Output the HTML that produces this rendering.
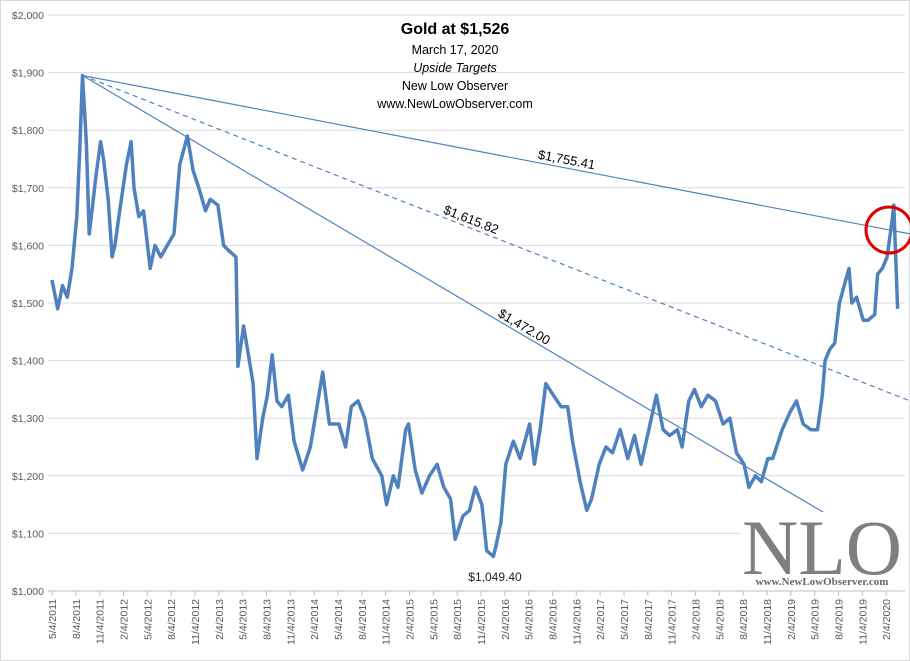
<!DOCTYPE html>
<html><head><meta charset="utf-8"><style>
body{margin:0;background:#fff}
svg{display:block;font-family:"Liberation Sans",sans-serif}
</style></head><body>
<svg id="chart" width="910" height="661" viewBox="0 0 910 661">
<rect x="0.5" y="0.5" width="909" height="660" fill="#fff" stroke="#d9d9d9"/>
<g id="grid"></g>
<g id="yticks"></g>
<g id="xticks"></g>
<g id="trend"></g>
<path id="series" fill="none" stroke="#4f81bd" stroke-width="3.5" stroke-linejoin="round"/>
<circle cx="889" cy="230" r="23" fill="none" stroke="#e00000" stroke-width="3"/>
<text x="495" y="581" font-size="12" text-anchor="middle" fill="#222">$1,049.40</text>
<g text-anchor="middle" fill="#000">
<text x="455" y="34" font-size="16" font-weight="bold">Gold at $1,526</text>
<text x="455" y="54" font-size="12.5">March 17, 2020</text>
<text x="455" y="72" font-size="12.5" font-style="italic">Upside Targets</text>
<text x="455" y="90" font-size="12.5">New Low Observer</text>
<text x="455" y="108" font-size="12.5">www.NewLowObserver.com</text>
</g>
<g>
<rect x="740" y="512" width="166" height="78" fill="#fff"/>
<text x="822" y="574" font-size="78" font-family="'Liberation Serif',serif" text-anchor="middle" fill="#7f7f7f" textLength="160" lengthAdjust="spacingAndGlyphs">NLO</text>
<text x="822" y="585" font-size="11" font-weight="bold" font-family="'Liberation Serif',serif" text-anchor="middle" fill="#666">www.NewLowObserver.com</text>
</g>
</svg>
<script>
const yTickValues=[1000,1100,1200,1300,1400,1500,1600,1700,1800,1900,2000];
const xTickLabels=[];
const qMonths=[5,8,11,2];
const priceTimes=[2011.34,2011.40,2011.45,2011.50,2011.55,2011.60,2011.63,2011.66,2011.70,2011.73,2011.76,2011.80,2011.85,2011.88,2011.93,2011.97,2012.0,2012.05,2012.12,2012.17,2012.2,2012.25,2012.3,2012.37,2012.42,2012.48,2012.55,2012.62,2012.68,2012.76,2012.82,2012.88,2012.95,2013.0,2013.08,2013.14,2013.2,2013.27,2013.29,2013.35,2013.4,2013.45,2013.49,2013.55,2013.6,2013.65,2013.7,2013.75,2013.82,2013.88,2013.97,2014.05,2014.12,2014.18,2014.25,2014.35,2014.42,2014.48,2014.55,2014.62,2014.7,2014.8,2014.85,2014.92,2014.97,2015.05,2015.08,2015.15,2015.22,2015.3,2015.38,2015.45,2015.52,2015.57,2015.65,2015.72,2015.78,2015.85,2015.9,2015.97,2016.0,2016.05,2016.1,2016.18,2016.25,2016.35,2016.4,2016.46,2016.52,2016.6,2016.68,2016.75,2016.8,2016.88,2016.95,2017.0,2017.08,2017.15,2017.22,2017.3,2017.38,2017.45,2017.52,2017.6,2017.68,2017.75,2017.82,2017.9,2017.95,2018.02,2018.08,2018.15,2018.22,2018.3,2018.38,2018.45,2018.52,2018.6,2018.65,2018.72,2018.78,2018.85,2018.9,2019.0,2019.08,2019.15,2019.22,2019.3,2019.37,2019.42,2019.45,2019.5,2019.55,2019.6,2019.65,2019.7,2019.73,2019.78,2019.85,2019.9,2019.97,2020.0,2020.05,2020.1,2020.15,2020.17,2020.19,2020.21];
const priceValues=[1540,1490,1530,1510,1560,1650,1760,1895,1780,1620,1660,1720,1780,1750,1680,1580,1600,1660,1740,1780,1700,1650,1660,1560,1600,1580,1600,1620,1740,1790,1730,1700,1660,1680,1670,1600,1590,1580,1390,1460,1410,1360,1230,1300,1340,1410,1330,1320,1340,1260,1210,1250,1320,1380,1290,1290,1250,1320,1330,1300,1230,1200,1150,1200,1180,1280,1290,1210,1170,1200,1220,1180,1160,1090,1130,1140,1180,1150,1070,1060,1080,1120,1220,1260,1230,1290,1220,1280,1360,1340,1320,1320,1260,1190,1140,1160,1220,1250,1240,1280,1230,1270,1220,1280,1340,1280,1270,1280,1250,1330,1350,1320,1340,1330,1290,1300,1240,1220,1180,1200,1190,1230,1230,1280,1310,1330,1290,1280,1280,1340,1400,1420,1430,1500,1530,1560,1500,1510,1470,1470,1480,1550,1560,1580,1640,1670,1580,1490];
const trendStart=[2011.66,1895];
const trendEnds=[[2020.34,1620],[2020.34,1330],[2019.52,1128]];
const trendLabels=["$1,755.41","$1,615.82","$1,472.00"];
const trendLabelPos=[[2016.73],[2015.72],[2016.27]];
const trendDashed=[false,true,false];

const NS="http://www.w3.org/2000/svg";
const xs=t=>52+(t-2011.34)*95.33;
const ys=p=>591-(p-1000)*0.576;
function mk(tag,attrs,parent){const e=document.createElementNS(NS,tag);for(const k in attrs)e.setAttribute(k,attrs[k]);document.getElementById(parent).appendChild(e);return e;}

yTickValues.forEach(v=>{
  const g=mk('line',{x1:48,x2:905,y1:ys(v),y2:ys(v),stroke:'#d9d9d9','stroke-width':1},'grid');
  
  
  const t=mk('text',{x:44,y:ys(v)+4,'font-size':10.5,'text-anchor':'end',fill:'#595959'},'yticks');
  t.textContent='$'+v.toLocaleString('en-US');
  
  
});
mk('line',{x1:48,x2:905,y1:591,y2:591,stroke:'#bfbfbf'},'xticks');
for(let i=0;i<36;i++){
  const m=qMonths[i%4];
  xTickLabels.push(m+'/4/'+(m===2?2012+Math.floor(i/4):2011+Math.floor(i/4)));
}
xTickLabels.forEach((lab,i)=>{
  const x=xs(2011.34+i*0.25);
  mk('line',{x1:x,x2:x,y1:591,y2:596,stroke:'#bfbfbf'},'xticks');
  const t=mk('text',{x:0,y:0,'font-size':10.5,'text-anchor':'end',fill:'#595959',transform:`translate(${x+4},599) rotate(-90)`},'xticks');
  t.textContent=lab;
  
  
});
let d='';priceTimes.forEach((t,i)=>{d+=(i?'L':'M')+xs(t).toFixed(1)+','+ys(priceValues[i]).toFixed(1);});
document.getElementById('series').setAttribute('d',d);
trendEnds.forEach((e,i)=>{
  const x1=xs(trendStart[0]),y1=ys(trendStart[1]),x2=xs(e[0]),y2=ys(e[1]);
  const l=mk('line',{x1,y1,x2,y2,stroke:'#4f81bd','stroke-width':1.2},'trend');
  if(trendDashed[i])l.setAttribute('stroke-dasharray','5,4');
  
  
  const lt=trendLabelPos[i][0];const lx=xs(lt);const ly=y1+(y2-y1)*(lx-x1)/(x2-x1);
  const ang=Math.atan2(y2-y1,x2-x1)*180/Math.PI;
  const t=mk('text',{x:0,y:0,'font-size':13,'text-anchor':'middle',fill:'#000',transform:`translate(${lx},${ly-4}) rotate(${ang})`},'trend');
  t.textContent=trendLabels[i];
  
  
});
</script>
</body></html>
